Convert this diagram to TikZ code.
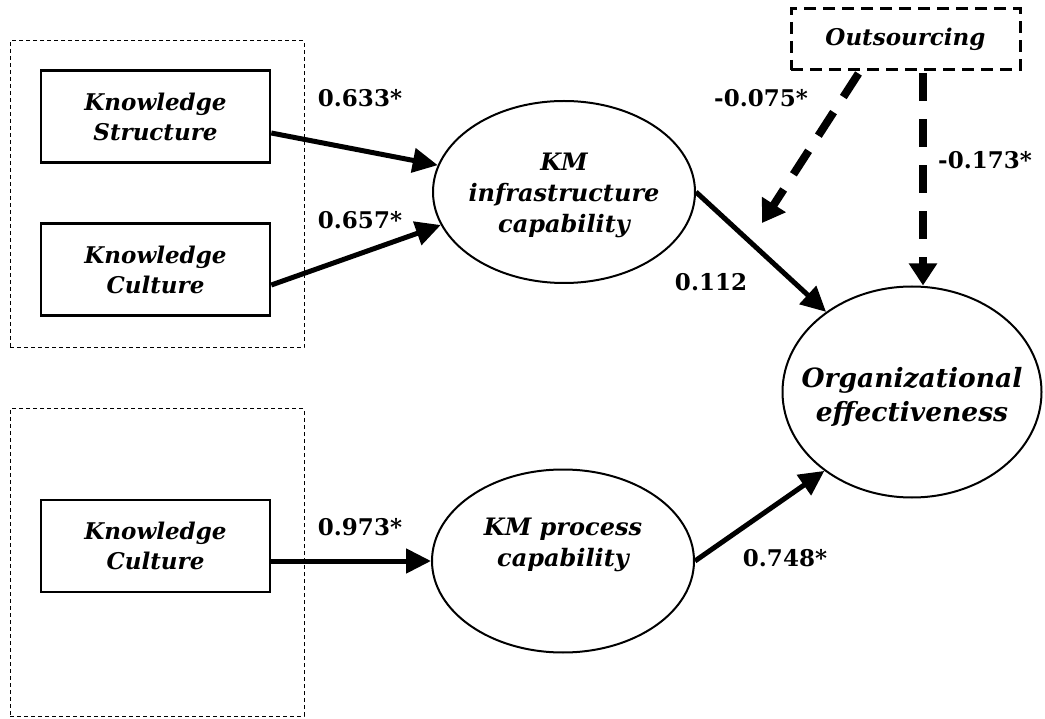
\documentclass[tikz,border=0pt]{standalone}
\usepackage{fontspec}
\setmainfont{DejaVu Serif}
\usetikzlibrary{arrows.meta,shapes.geometric,calc}

\begin{document}
\begin{tikzpicture}[x=1pt,y=-1pt,
  construct/.style={draw, line width=2.6pt, inner sep=0pt, minimum width=229pt,
    minimum height=92pt, align=center,
    font=\fontsize{23}{30}\selectfont\bfseries\itshape},
  latent/.style={draw, ellipse, line width=2pt, inner sep=0pt},
  lattext/.style={align=center, inner sep=0pt,
    font=\fontsize{24}{31}\selectfont\bfseries\itshape},
  group/.style={draw, line width=1pt, dash pattern=on 4pt off 3pt,
    inner sep=0pt},
  modbox/.style={draw, line width=3pt, dash pattern=on 12pt off 7pt,
    inner sep=0pt, minimum width=229pt, minimum height=61pt,
    font=\fontsize{23}{28}\selectfont\bfseries\itshape},
  path/.style={line width=5pt, -{Triangle[length=25pt,width=24pt]}},
  modpath/.style={line width=8pt, dash pattern=on 28pt off 18pt,
    -{Triangle[length=22pt,width=27pt]}},
  coef/.style={inner sep=0pt, font=\fontsize{23}{28}\selectfont\bfseries},
]
\useasboundingbox (0,0) rectangle (1045,719);

% dotted frames around the indicator groups
\node[group, minimum width=294pt, minimum height=307pt] (grp1) at (157,194.5) {};
\node[group, minimum width=294pt, minimum height=307pt] (grp2) at (157,562.5) {};

% indicator boxes
\node[construct] (ks)  at (155.5,116.5) {Knowledge\\Structure};
\node[construct] (kc)  at (155.5,269.5) {Knowledge\\Culture};
\node[construct] (kc2) at (155.5,546)   {Knowledge\\Culture};

% latent constructs
\node[latent, minimum width=262pt, minimum height=182pt] (infra) at (564,192) {};
\node[lattext] (infratxt) at (564,195) {KM\\infrastructure\\capability};
\node[latent, minimum width=262pt, minimum height=183pt] (proc) at (563,561) {};
\node[lattext] (proctxt) at (563,545) {KM process\\capability};
\node[latent, minimum width=259pt, minimum height=211pt] (org) at (912,392) {};
\node[lattext, font=\fontsize{26.5}{34}\selectfont\bfseries\itshape]
  (orgtxt) at (912,397) {Organizational\\effectiveness};

% moderator
\node[modbox] (out) at (905.5,39.5) {Outsourcing};

% structural paths
\draw[path] ($(ks.east)+(0,16.5)$) -- (infra.168);
\draw[path] ($(kc.east)+(0,15.5)$) -- (infra.195);
\draw[path] ($(kc2.east)+(0,15)$) -- (proc.west);
\draw[path] (infra.east) -- (org.137.8);
\draw[path] (proc.east) -- (org.222);

% moderating effects
\coordinate (modtip) at (762,223);
\draw[modpath] ($(out.south)+(-47,2)$) -- (modtip);
\draw[modpath] ($(out.south)+(17.5,2)$) coordinate (vstart) -- (vstart |- org.north);

% path coefficients
\node[coef] (c1) at (360,98)  {0.633*};
\node[coef] (c2) at (360,220) {0.657*};
\node[coef] (c3) at (360,527) {0.973*};
\node[coef] (c4) at (711,282) {0.112};
\node[coef] (c5) at (785,558) {0.748*};
\node[coef] (c6) at (761,98)  {-0.075*};
\node[coef] (c7) at (985,160) {-0.173*};
\end{tikzpicture}
\end{document}
